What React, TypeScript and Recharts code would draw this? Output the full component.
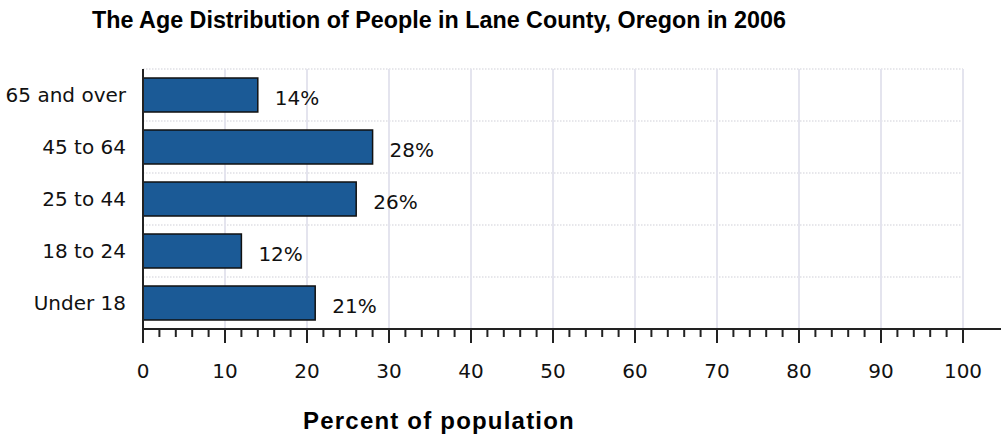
import React from "react";
import { BarChart, Bar, XAxis, YAxis, CartesianGrid, LabelList } from "recharts";

const CATEGORIES = ["65 and over", "45 to 64", "25 to 44", "18 to 24", "Under 18"];
const PERCENTS = [14, 28, 26, 12, 21];
const X_DOMAIN = [0, 100];
const MAJOR_TICKS = [0, 10, 20, 30, 40, 50, 60, 70, 80, 90, 100];
const MINOR_TICKS = [
  0, 2, 4, 6, 8, 10, 12, 14, 16, 18, 20, 22, 24, 26, 28, 30, 32, 34, 36, 38, 40,
  42, 44, 46, 48, 50, 52, 54, 56, 58, 60, 62, 64, 66, 68, 70, 72, 74, 76, 78, 80,
  82, 84, 86, 88, 90, 92, 94, 96, 98, 100,
];
const TITLE = "The Age Distribution of People in Lane County, Oregon in 2006";
const X_TITLE = "Percent of population";

const data = CATEGORIES.map((name, i) => ({ name, value: PERCENTS[i] }));

const W = 1001;
const H = 438;
const AXIS_EXTENSION = 38;
const LABEL_FONT = "'DejaVu Sans', sans-serif";
const TITLE_FONT = "'Liberation Sans', Arial, sans-serif";

// horizontal dotted lines at the top edge of every category band
const horizontalGen = (args: any) => {
  const off = args && args.offset;
  if (!off) return [];
  const band = off.height / CATEGORIES.length;
  return CATEGORIES.map((_, i) => off.top + i * band);
};

// vertical grid lines at the major ticks, using the same linear mapping as the x axis
const verticalGen = (args: any) => {
  const off = args && args.offset;
  if (!off) return [];
  const span = off.width - AXIS_EXTENSION;
  return MAJOR_TICKS.map(
    (v) => off.left + ((v - X_DOMAIN[0]) / (X_DOMAIN[1] - X_DOMAIN[0])) * span
  );
};

const HLine = (props: any) => {
  const { x1, y1, x2, y2, index } = props;
  return (
    <line
      key={`h-${index}-${y1}`}
      x1={x1}
      y1={y1}
      x2={x2 - AXIS_EXTENSION}
      y2={y2}
      stroke="#cfcfd8"
      strokeWidth={1.2}
      strokeDasharray="1.5 1.5"
    />
  );
};

const XTick = (props: any) => {
  const { x, y, payload } = props;
  const v = payload && payload.value;
  const major = MAJOR_TICKS.includes(v);
  return (
    <g>
      <line x1={x} x2={x} y1={y} y2={y + (major ? 14 : 8)} stroke="#222" strokeWidth={2} />
      {major && (
        <text
          x={x}
          y={y + 35}
          dy="0.71em"
          textAnchor="middle"
          fontSize={20}
          fontFamily={LABEL_FONT}
          fill="#111"
        >
          {v}
        </text>
      )}
    </g>
  );
};

export default function App() {
  return (
    <div style={{ position: "absolute", left: 0, top: 0, width: W, height: H, background: "#fff" }}>
      <BarChart
        width={W}
        height={H}
        data={data}
        layout="vertical"
        margin={{ top: 69, right: 0, bottom: 0, left: 0 }}
      >
        <CartesianGrid
          vertical={true}
          horizontal={HLine as any}
          stroke="#e4e4ee"
          strokeWidth={2}
          horizontalCoordinatesGenerator={horizontalGen as any}
          verticalCoordinatesGenerator={verticalGen as any}
        />
        <XAxis
          type="number"
          domain={X_DOMAIN}
          ticks={MINOR_TICKS}
          interval={0}
          height={109}
          padding={{ left: 0, right: AXIS_EXTENSION }}
          tickSize={0}
          tickMargin={0}
          tickLine={false}
          axisLine={{ stroke: "#222", strokeWidth: 2 }}
          tick={<XTick />}
        />
        <YAxis
          type="category"
          dataKey="name"
          width={143}
          tickLine={false}
          tickSize={0}
          tickMargin={17}
          axisLine={{ stroke: "#222", strokeWidth: 2 }}
          tick={{ fontSize: 20, fontFamily: LABEL_FONT, fill: "#111" }}
        />
        <Bar
          dataKey="value"
          fill="#1b5a96"
          stroke="#111"
          strokeWidth={1.5}
          barSize={34}
          isAnimationActive={false}
        >
          <LabelList
            dataKey="value"
            position="right"
            offset={17}
            formatter={(v: any) => `${v}%`}
            fill="#111"
            fontSize={20}
            fontFamily={LABEL_FONT}
            dy={3}
          />
        </Bar>
      </BarChart>
      <svg
        width={W}
        height={H}
        style={{ position: "absolute", left: 0, top: 0, pointerEvents: "none" }}
      >
        <text x={439} y={28} textAnchor="middle" fontFamily={TITLE_FONT} fontWeight="bold" fontSize={23.3} fill="#000">
          {TITLE}
        </text>
        <text
          x={439}
          y={429}
          textAnchor="middle"
          fontFamily={TITLE_FONT}
          fontWeight="bold"
          fontSize={24}
          letterSpacing={1.2}
          fill="#000"
        >
          {X_TITLE}
        </text>
      </svg>
    </div>
  );
}
